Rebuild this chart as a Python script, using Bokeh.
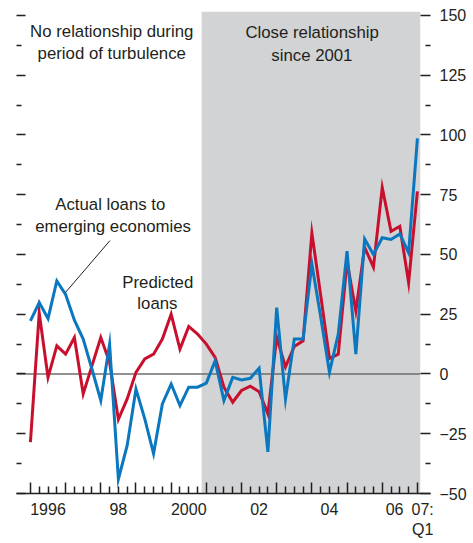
from bokeh.plotting import figure
from bokeh.models import (LinearAxis, FixedTicker, BoxAnnotation, Label, Range1d)
from bokeh.embed import file_html
from bokeh.resources import INLINE

# ---------------- data ----------------
years = list(range(1996, 2008))
# quarterly observations 1996:Q1 .. 2007:Q1
quarters = [(y, q) for y in range(1996, 2008) for q in range(1, 5)][:45]
t = [y + (q - 1) / 4 for (y, q) in quarters]

actual = [22.2, 29.9, 23.2, 38.9, 33.3, 22.5, 14.6, 2.0, -11.1, 12.5,
          -44.0, -29.9, -6.3, -18.8, -33.3, -12.5, -4.2, -13.2, -5.5, -5.5,
          -3.8, 5.5, -11.1, -1.4, -2.5, -1.8, 2.4, -32.6, 27.8, -10.5,
          14.6, 14.6, 46.0, 24.0, 0.7, 16.7, 51.4, 8.3, 56.5, 50.0,
          57.0, 56.3, 58.6, 50.7, 98.6]
predicted = [-28.5, 25.5, -1.4, 11.8, 8.3, 15.3, -8.3, 3.5, 15.3, 4.9,
             -19.0, -10.4, 0.7, 6.3, 8.3, 14.6, 25.0, 10.4, 19.9, 16.7,
             12.5, 6.9, -5.5, -11.8, -6.9, -5.1, -7.4, -16.7, 15.3, 3.0,
             11.5, 13.9, 59.0, 33.0, 6.5, 8.3, 47.0, 26.4, 53.0, 44.7,
             78.0, 59.7, 61.8, 38.2, 76.4]

y_major = [-50, -25, 0, 25, 50, 75, 100, 125, 150]
y_minor = [-37.5, -12.5, 12.5, 37.5, 62.5, 87.5, 112.5, 137.5]
x_label_pos = [1996.5, 1998.5, 2000.5, 2002.5, 2004.5, 2006.35, 2007.15]
x_labels = ["1996", "98", "2000", "02", "04", "06", "07:\nQ1"]
shade_start, shade_end = 2000.866, 2007.08

# ---------------- style ----------------
FONT = "Liberation Sans"
INK = "#231f20"
BLUE = "#0a77bf"
RED = "#c8102e"
GREY = "#d1d3d4"

x_start, x_end = 1995.604, 2007.372
y_start, y_end = -50, 151.67

p = figure(width=469, height=540, output_backend="svg", toolbar_location=None,
           x_range=Range1d(x_start, x_end), y_range=Range1d(y_start, y_end),
           x_axis_location=None, y_axis_location=None,
           min_border_left=16, min_border_right=37, min_border_top=11,
           min_border_bottom=45)
p.outline_line_color = None
p.background_fill_color = "white"
p.border_fill_color = "white"
p.xgrid.visible = False
p.ygrid.visible = False

p.add_layout(BoxAnnotation(left=shade_start, right=shade_end, fill_color=GREY,
                           fill_alpha=1, line_color=None, level="underlay"))

# zero line (ends with the shaded area)
p.line([x_start, shade_end], [0, 0], line_color="#6e6e6e", line_width=1.5)

p.line(t, predicted, line_color=RED, line_width=3, line_join="miter")
p.line(t, actual, line_color=BLUE, line_width=3, line_join="miter")

# leader line for "Actual loans" label
p.segment(x0=[1998.26], y0=[55.8], x1=[1996.99], y1=[34.0],
          line_color=INK, line_width=1)

# ---------------- axes ----------------
minor_q = [y + k / 4 for y in years[:-1] for k in (1, 2, 3)]
tick_axis = LinearAxis(ticker=FixedTicker(ticks=years, minor_ticks=minor_q),
                       major_tick_in=11, major_tick_out=0,
                       minor_tick_in=7, minor_tick_out=0,
                       major_tick_line_color=INK, minor_tick_line_color=INK,
                       major_tick_line_width=1.5, minor_tick_line_width=1.5,
                       axis_line_color=INK, axis_line_width=1.5,
                       major_label_text_color=None,
                       major_label_text_font_size="0px", major_label_standoff=0)
p.add_layout(tick_axis, "below")

label_axis = LinearAxis(ticker=FixedTicker(ticks=x_label_pos, minor_ticks=[]),
                        major_label_overrides={pos: lab for pos, lab in zip(x_label_pos, x_labels)},
                        major_tick_line_color=None, minor_tick_line_color=None,
                        axis_line_color=None, major_label_standoff=7,
                        major_tick_out=0, major_tick_in=0,
                        major_label_text_font=FONT, major_label_text_font_size="16px",
                        major_label_text_color=INK)
p.add_layout(label_axis, "below")

left_axis = LinearAxis(ticker=FixedTicker(ticks=y_major, minor_ticks=y_minor),
                       major_tick_in=9, major_tick_out=0,
                       minor_tick_in=5, minor_tick_out=0,
                       major_tick_line_color=INK, minor_tick_line_color=INK,
                       major_tick_line_width=1.5, minor_tick_line_width=1.5,
                       axis_line_color=None,
                       major_label_text_color=None,
                       major_label_text_font_size="0px", major_label_standoff=0)
p.add_layout(left_axis, "left")

right_axis = LinearAxis(ticker=FixedTicker(ticks=y_major, minor_ticks=y_minor),
                        major_tick_in=10, major_tick_out=0,
                        minor_tick_in=5, minor_tick_out=0,
                        major_tick_line_color=INK, minor_tick_line_color=INK,
                        major_tick_line_width=1.5, minor_tick_line_width=1.5,
                        axis_line_color=None, major_label_standoff=9,
                        major_label_text_font=FONT, major_label_text_font_size="16px",
                        major_label_text_color=INK)
p.add_layout(right_axis, "right")

# ---------------- annotations ----------------
notes = [
    (1998.311, 143.2, "No relationship during"),
    (1998.311, 134.1, "period of turbulence"),
    (2004.006, 142.8, "Close relationship"),
    (2004.0, 133.4, "since 2001"),
    (1998.27, 70.9, "Actual loans to"),
    (1998.35, 61.9, "emerging economies"),
    (1999.62, 38.3, "Predicted"),
    (1999.61, 29.3, "loans"),
]
for x, y, txt in notes:
    p.add_layout(Label(x=x, y=y, text=txt, text_align="center",
                       text_baseline="alphabetic", text_font=FONT,
                       text_font_size="16.8px", text_color=INK))

open("out.html", "w").write(file_html(p, INLINE))
